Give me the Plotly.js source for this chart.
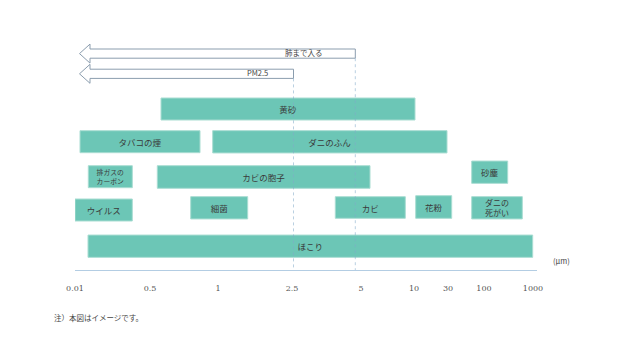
<!DOCTYPE html>
<html>
<head>
<meta charset="utf-8">
<script src="https://cdn.plot.ly/plotly-3.0.1.min.js"></script>
<style>html,body{margin:0;padding:0;background:#fff;}#chart{width:640px;height:360px;}</style>
</head>
<body>
<div id="chart"></div>
<script>
// Scale: positions along the (non-linear) size axis
const tickLabels = ['0.01','0.5','1','2.5','5','10','30','100','1000'];
const tickPos = [0, 75, 143, 217, 286, 339, 373, 409, 458];

// Particles: label, start / end position on the size scale, row, bar thickness
const categories = ['黄砂','タバコの煙','ダニのふん','排ガスの<br>カーボン','カビの胞子','砂塵','ウイルス','細菌','カビ','花粉','ダニの<br>死がい','ほこり'];
const starts = [86, 5, 137.7, 13.3, 82.3, 396.7, 0, 115.7, 260.3, 340.7, 396.7, 13];
const ends   = [340, 125, 372, 57.3, 295, 432.7, 57.3, 172.7, 330.3, 376.7, 447.3, 457.7];
const rows   = [109, 141.7, 141.8, 176.7, 177, 172.2, 210, 207.8, 207.5, 207, 207.8, 246.2];
const thickness = [22, 22, 22.3, 22, 22.6, 22.3, 22, 22.3, 21.6, 22.6, 22.3, 22.3];
const labelSizes = [8.5, 8.5, 8.5, 6.8, 8.5, 8.5, 8.5, 8.5, 8.5, 8.5, 8, 8.5];

// Arrows (reach into the body)
const arrowLabels = ['肺まで入る', 'PM2.5'];
const arrowEnds = [280.3, 218.5];
const arrowRows = [53.6, 73.8];
const arrowLabelPos = [229, 182];
const arrowStart = 4.5;
const axisBottom = 270;

const FONT = '"Noto Sans CJK JP", "Noto Sans", sans-serif';

const traces = [];

// arrows
arrowEnds.forEach((end, i) => {
  const y = arrowRows[i];
  const hb = arrowStart + 10.5;
  traces.push({
    type: 'scatter', mode: 'lines', fill: 'toself', fillcolor: '#ffffff',
    x: [end, hb, hb, arrowStart, hb, hb, end, end],
    y: [y - 4.6, y - 4.6, y - 9.5, y, y + 9.5, y + 4.6, y + 4.6, y - 4.6],
    line: {color: '#8b9dae', width: 1},
    hoverinfo: 'skip', showlegend: false
  });
});

// bars
traces.push({
  type: 'bar', orientation: 'h',
  y: rows,
  x: ends.map((e, i) => e - starts[i]),
  base: starts,
  width: thickness,
  text: categories,
  textposition: 'inside',
  insidetextanchor: 'middle',
  constraintext: 'none',
  textangle: 0,
  textfont: {family: FONT, size: labelSizes, color: '#3a3a3a'},
  marker: {color: '#6cc6b6', line: {color: '#a9ddd2', width: 1}},
  hoverinfo: 'skip', showlegend: false
});

const shapes = arrowEnds.map((end, i) => ({
  type: 'line', xref: 'x', yref: 'y', layer: 'above',
  x0: end, x1: end, y0: arrowRows[i] + 4.6, y1: axisBottom,
  line: {color: 'rgba(130,170,200,0.55)', width: 1, dash: 'dot'}
}));

const annotations = arrowLabels.map((t, i) => ({
  xref: 'x', yref: 'y', x: arrowLabelPos[i], y: arrowRows[i] - 1.5,
  text: t, showarrow: false, font: {family: FONT, size: 7.5, color: '#444'}
}));
annotations.push({
  xref: 'paper', yref: 'paper', x: 1.075, y: 0.0074, text: '(μm)',
  showarrow: false, font: {family: FONT, size: 7.5, color: '#444'}
});
annotations.push({
  xref: 'paper', yref: 'paper', x: -0.0498, y: -0.2037, xanchor: 'left',
  text: '注）本図はイメージです。',
  showarrow: false, font: {family: FONT, size: 7.5, color: '#444'}
});

const layout = {
  width: 640, height: 360,
  margin: {l: 75, r: 103, t: 0, b: 90, pad: 0},
  paper_bgcolor: '#ffffff', plot_bgcolor: '#ffffff',
  barmode: 'overlay',
  xaxis: {
    range: [0, 462], tickvals: tickPos, ticktext: tickLabels,
    showgrid: false, zeroline: false, showline: true,
    linecolor: '#b3cde3', linewidth: 1, ticks: '',
    ticklabelstandoff: 10,
    tickfont: {family: '"DejaVu Serif", serif', size: 8, color: '#555'},
    fixedrange: true
  },
  yaxis: {range: [axisBottom, 0], visible: false, fixedrange: true},
  shapes: shapes,
  annotations: annotations,
  font: {family: FONT}
};

Plotly.newPlot('chart', traces, layout, {displayModeBar: false, staticPlot: true});
</script>
</body>
</html>
